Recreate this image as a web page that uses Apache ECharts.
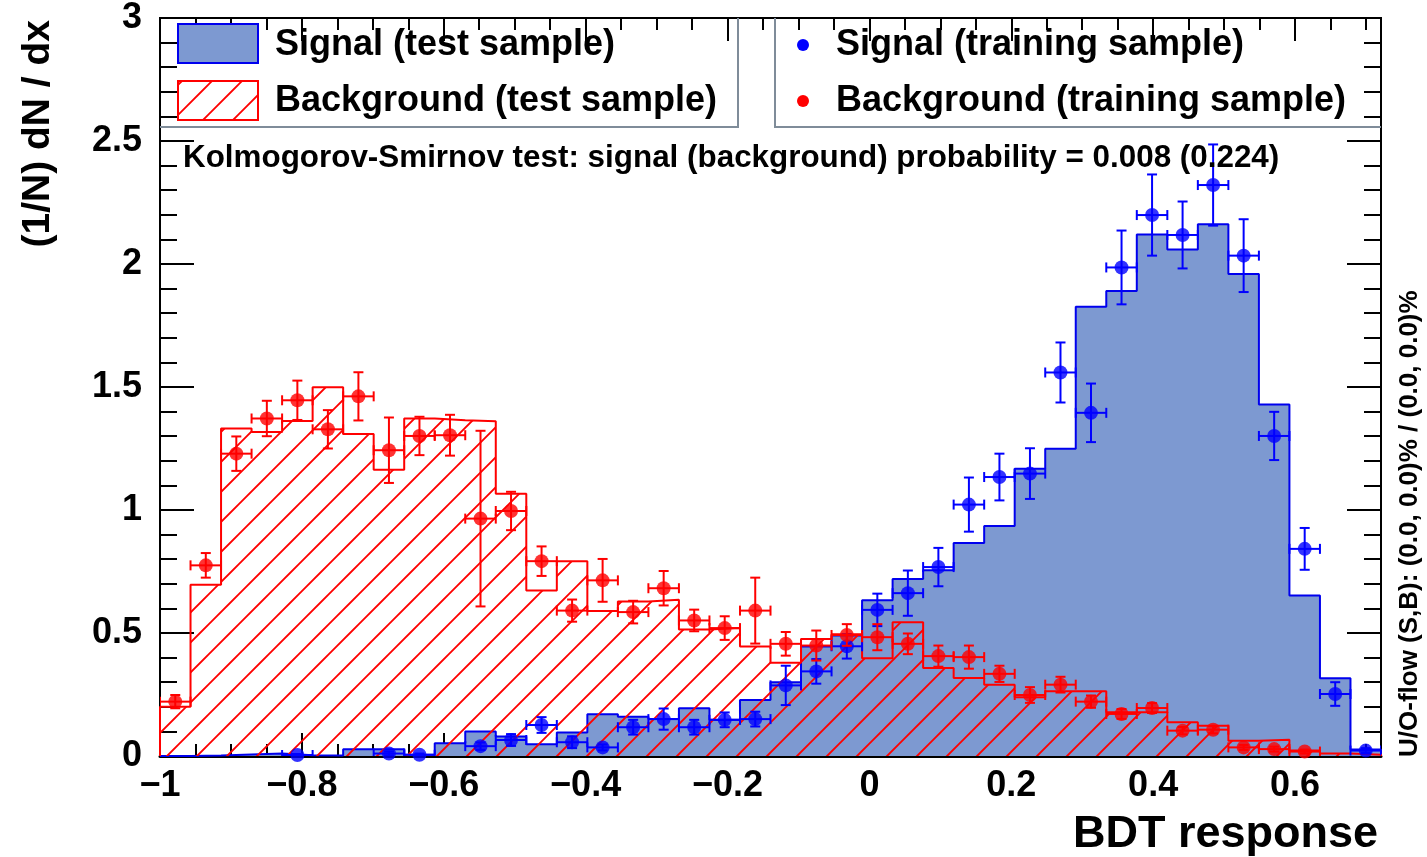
<!DOCTYPE html>
<html>
<head>
<meta charset="utf-8">
<script src="https://cdn.jsdelivr.net/npm/echarts@6/dist/echarts.min.js"></script>
<style>
  html, body { margin: 0; padding: 0; background: #ffffff; }
  #chart { width: 1427px; height: 857px; }
</style>
</head>
<body>
<div id="chart"></div>
<script>
// BDT response distributions, 40 equal-width bins over [X_MIN, X_MAX]
const X_MIN = -1;
const X_MAX = 0.7212;
const N_BINS = 40;

// Signal (test sample), normalised (1/N) dN/dx per bin
const sigTest = [
  0.000, 0.002, 0.006, 0.010, 0.003, 0.002, 0.027, 0.027, 0.005, 0.052,
  0.100, 0.079, 0.048, 0.096, 0.170, 0.160, 0.150, 0.194, 0.147, 0.228,
  0.300, 0.445, 0.490, 0.633, 0.720, 0.755, 0.866, 0.935, 1.168, 1.249,
  1.826, 1.890, 2.120, 2.059, 2.162, 1.959, 1.429, 0.652, 0.316, 0.026
];

// Background (test sample)
const bkgTest = [
  0.200, 0.696, 1.331, 1.317, 1.362, 1.499, 1.309, 1.164, 1.372, 1.365,
  1.361, 1.066, 0.673, 0.792, 0.589, 0.628, 0.635, 0.514, 0.520, 0.445,
  0.379, 0.476, 0.495, 0.397, 0.544, 0.358, 0.317, 0.290, 0.239, 0.263,
  0.263, 0.178, 0.178, 0.137, 0.123, 0.062, 0.066, 0.022, 0.010, 0.005
];

// Signal (training sample): values and errors (null = no entry drawn)
const sigTrain = [
  null, null, null, null, 0.004, null, null, 0.010, 0.005, null,
  0.040, 0.065, 0.126, 0.056, 0.035, 0.117, 0.150, 0.117, 0.147, 0.150,
  0.287, 0.344, 0.446, 0.594, 0.662, 0.768, 1.022, 1.134, 1.148, 1.559,
  1.395, 1.986, 2.199, 2.118, 2.321, 2.034, 1.301, 0.842, 0.252, 0.022
];
const sigTrainErr = [
  0, 0, 0, 0, 0.004, 0, 0, 0.008, 0.005, 0,
  0.015, 0.024, 0.032, 0.024, 0.012, 0.030, 0.043, 0.030, 0.030, 0.030,
  0.080, 0.050, 0.050, 0.066, 0.092, 0.078, 0.110, 0.095, 0.103, 0.122,
  0.119, 0.150, 0.165, 0.136, 0.165, 0.148, 0.098, 0.085, 0.048, 0.010
];

// Background (training sample)
const bkgTrain = [
  0.221, 0.775, 1.229, 1.372, 1.446, 1.328, 1.462, 1.243, 1.301, 1.304,
  0.965, 0.996, 0.792, 0.591, 0.714, 0.585, 0.682, 0.551, 0.520, 0.591,
  0.456, 0.449, 0.492, 0.483, 0.456, 0.406, 0.402, 0.334, 0.248, 0.290,
  0.221, 0.171, 0.195, 0.103, 0.107, 0.035, 0.028, 0.018, null, null
];
const bkgTrainErr = [
  0.027, 0.050, 0.070, 0.072, 0.080, 0.078, 0.098, 0.133, 0.078, 0.083,
  0.357, 0.078, 0.060, 0.045, 0.087, 0.046, 0.070, 0.044, 0.048, 0.134,
  0.048, 0.061, 0.044, 0.053, 0.042, 0.043, 0.047, 0.033, 0.032, 0.032,
  0.025, 0.020, 0.020, 0.015, 0.015, 0.010, 0.010, 0.008, 0, 0
];

const ksText = 'Kolmogorov-Smirnov test: signal (background) probability = 0.008 (0.224)';
const flowText = 'U/O-flow (S,B): (0.0, 0.0)% / (0.0, 0.0)%';

// ---------------------------------------------------------------------
const BIN_W = (X_MAX - X_MIN) / N_BINS;
const edges = Array.from({ length: N_BINS + 1 }, (_, i) => X_MIN + i * BIN_W);
const centers = Array.from({ length: N_BINS }, (_, i) => X_MIN + (i + 0.5) * BIN_W);

const FONT = '"Liberation Sans", Arial, Helvetica, sans-serif';
const SIG_LINE = '#0000ee';
const SIG_FILL = '#7d99d1';
const BKG_LINE = '#ff0000';
const FRAME_GREY = '#7f8c99';

// Stepped outline points of a histogram (drawn with step: 'end')
function stepPoints(vals) {
  const pts = [[edges[0], 0]];
  vals.forEach((v, i) => pts.push([edges[i], v]));
  pts.push([edges[N_BINS], vals[N_BINS - 1]]);
  pts.push([edges[N_BINS], 0]);
  return pts;
}

// Diagonal hatch tile for the background histogram
function hatchTile() {
  const s = 30, off = 23;
  const c = document.createElement('canvas');
  c.width = s; c.height = s;
  const g = c.getContext('2d');
  g.strokeStyle = BKG_LINE;
  g.lineWidth = 1.9;
  g.beginPath();
  for (let k = -1; k <= 2; k++) {
    const d = off + k * s;           // line x + y = d
    g.moveTo(d - s - 2, s + 2);
    g.lineTo(d + 2, -2);
  }
  g.stroke();
  return c;
}

function fmtTick(v, step) {
  const r = Math.round(v / step);
  if (Math.abs(v / step - r) > 1e-6) return '';
  const val = r * step;
  if (Math.abs(val) < 1e-9) return '0';
  let s = Math.abs(val).toFixed(1);
  if (s.endsWith('.0')) s = s.slice(0, -2);
  return (val < 0 ? '\u2212' : '') + s;
}

function pointData(vals, errs) {
  const out = [];
  vals.forEach((v, i) => { if (v !== null) out.push([centers[i], v, errs[i]]); });
  return out;
}

function errorBarSeries(vals, errs, color, z) {
  return {
    type: 'custom',
    z: z,
    clip: true,
    silent: true,
    data: pointData(vals, errs),
    encode: { x: 0, y: 1 },
    renderItem(params, api) {
      const xc = api.value(0), y = api.value(1), e = api.value(2);
      const c = api.coord([xc, y]);
      const l = api.coord([xc - BIN_W / 2, y])[0];
      const r = api.coord([xc + BIN_W / 2, y])[0];
      const t = api.coord([xc, y + e])[1];
      const b = api.coord([xc, Math.max(y - e, 0)])[1];
      const k = 5;
      const st = { stroke: color, lineWidth: 2 };
      const L = (x1, y1, x2, y2) => ({ type: 'line', shape: { x1, y1, x2, y2 }, style: st });
      return {
        type: 'group',
        children: [
          L(l, c[1], r, c[1]), L(l, c[1] - k, l, c[1] + k), L(r, c[1] - k, r, c[1] + k),
          L(c[0], t, c[0], b), L(c[0] - k, t, c[0] + k, t), L(c[0] - k, b, c[0] + k, b)
        ]
      };
    }
  };
}

const chart = echarts.init(document.getElementById('chart'), null, { renderer: 'canvas' });

const tickFont = { fontFamily: FONT, fontWeight: 'bold', color: '#000', fontSize: 36 };
const tickLine = { color: '#000', width: 2 };

const option = {
  backgroundColor: '#ffffff',
  animation: false,
  grid: {
    left: 160, right: 46, top: 18, bottom: 101,
    show: true, borderColor: '#000', borderWidth: 2, backgroundColor: 'transparent'
  },
  xAxis: [
    {
      type: 'value', min: X_MIN, max: X_MAX, interval: 0.2, position: 'bottom',
      axisLine: { show: true, onZero: false, lineStyle: { color: '#000', width: 3 } },
      axisTick: { show: true, inside: true, length: 23, lineStyle: tickLine },
      minorTick: { show: true, splitNumber: 4, length: 12, lineStyle: tickLine },
      splitLine: { show: false }, minorSplitLine: { show: false },
      axisLabel: Object.assign({ margin: 12, formatter: v => fmtTick(v, 0.2), showMaxLabel: false }, tickFont)
    },
    {
      type: 'value', min: X_MIN, max: X_MAX, interval: 0.2, position: 'top',
      axisLine: { show: false, onZero: false },
      axisTick: { show: true, inside: true, length: 23, lineStyle: tickLine },
      minorTick: { show: true, splitNumber: 4, length: 12, lineStyle: tickLine },
      splitLine: { show: false }, axisLabel: { show: false }
    }
  ],
  yAxis: [
    {
      type: 'value', min: 0, max: 3, interval: 0.5, position: 'left',
      axisLine: { show: true, onZero: false, lineStyle: { color: '#000', width: 2 } },
      axisTick: { show: true, inside: true, length: 34, lineStyle: tickLine },
      minorTick: { show: true, splitNumber: 5, length: 17, lineStyle: tickLine },
      splitLine: { show: false },
      axisLabel: Object.assign({ margin: 18, formatter: v => fmtTick(v, 0.5) }, tickFont)
    },
    {
      type: 'value', min: 0, max: 3, interval: 0.5, position: 'right',
      axisLine: { show: false, onZero: false },
      axisTick: { show: true, inside: true, length: 34, lineStyle: tickLine },
      minorTick: { show: true, splitNumber: 5, length: 17, lineStyle: tickLine },
      splitLine: { show: false }, axisLabel: { show: false }
    }
  ],
  series: [
    {
      name: 'Signal (test sample)', type: 'line', step: 'end', z: 1,
      data: stepPoints(sigTest), symbol: 'none', silent: true,
      lineStyle: { color: SIG_LINE, width: 2 },
      areaStyle: { color: SIG_FILL, opacity: 1, origin: 'start' }
    },
    {
      name: 'Background (test sample)', type: 'line', step: 'end', z: 2,
      data: stepPoints(bkgTest), symbol: 'none', silent: true,
      lineStyle: { color: BKG_LINE, width: 2 },
      areaStyle: { color: { image: hatchTile(), repetition: 'repeat' }, opacity: 1, origin: 'start' }
    },
    errorBarSeries(sigTrain, sigTrainErr, '#0000ff', 3),
    {
      name: 'Signal (training sample)', type: 'scatter', z: 4, silent: true,
      data: pointData(sigTrain, sigTrainErr).map(d => [d[0], d[1]]),
      symbol: 'circle', symbolSize: 14, itemStyle: { color: '#0000ff' }
    },
    errorBarSeries(bkgTrain, bkgTrainErr, '#ff0000', 5),
    {
      name: 'Background (training sample)', type: 'scatter', z: 6, silent: true,
      data: pointData(bkgTrain, bkgTrainErr).map(d => [d[0], d[1]]),
      symbol: 'circle', symbolSize: 14, itemStyle: { color: '#ff0000' }
    }
  ],
  graphic: [
    // legend frames
    { type: 'polyline', z: 10, shape: { points: [[160, 127], [738, 127], [738, 18]] },
      style: { stroke: FRAME_GREY, lineWidth: 2, fill: null } },
    { type: 'polyline', z: 10, shape: { points: [[775, 18], [775, 127], [1381, 127]] },
      style: { stroke: FRAME_GREY, lineWidth: 2, fill: null } },
    // legend: test samples
    { type: 'rect', z: 10, shape: { x: 178, y: 24, width: 80, height: 39 },
      style: { fill: SIG_FILL, stroke: SIG_LINE, lineWidth: 2 } },
    { type: 'rect', z: 10, shape: { x: 178, y: 81, width: 80, height: 39 },
      style: { fill: { image: hatchTile(), repetition: 'repeat' }, stroke: BKG_LINE, lineWidth: 2 } },
    { type: 'text', z: 10, x: 275, y: 45,
      style: { text: 'Signal (test sample)', font: 'bold 36px ' + FONT, fill: '#000', verticalAlign: 'middle' } },
    { type: 'text', z: 10, x: 275, y: 101,
      style: { text: 'Background (test sample)', font: 'bold 36px ' + FONT, fill: '#000', verticalAlign: 'middle' } },
    // legend: training samples
    { type: 'circle', z: 10, shape: { cx: 803, cy: 45, r: 6 }, style: { fill: '#0000ff' } },
    { type: 'circle', z: 10, shape: { cx: 803, cy: 101, r: 6 }, style: { fill: '#ff0000' } },
    { type: 'text', z: 10, x: 836, y: 45,
      style: { text: 'Signal (training sample)', font: 'bold 36px ' + FONT, fill: '#000', verticalAlign: 'middle' } },
    { type: 'text', z: 10, x: 836, y: 101,
      style: { text: 'Background (training sample)', font: 'bold 36px ' + FONT, fill: '#000', verticalAlign: 'middle' } },
    // KS test
    { type: 'text', z: 10, x: 183, y: 158,
      style: { text: ksText, font: 'bold 31.4px ' + FONT, fill: '#000', verticalAlign: 'middle' } },
    // axis titles
    { type: 'text', z: 10, x: 38, y: 20, rotation: Math.PI / 2,
      style: { text: '(1/N) dN / dx', font: 'bold 39px ' + FONT, fill: '#000', align: 'right', verticalAlign: 'middle' } },
    { type: 'text', z: 10, x: 1378, y: 835,
      style: { text: 'BDT response', font: 'bold 45px ' + FONT, fill: '#000', align: 'right', verticalAlign: 'middle' } },
    { type: 'text', z: 10, x: 1410, y: 757, rotation: Math.PI / 2,
      style: { text: flowText, font: 'bold 26px ' + FONT, fill: '#000', align: 'left', verticalAlign: 'middle' } }
  ]
};

chart.setOption(option);
</script>
</body>
</html>
